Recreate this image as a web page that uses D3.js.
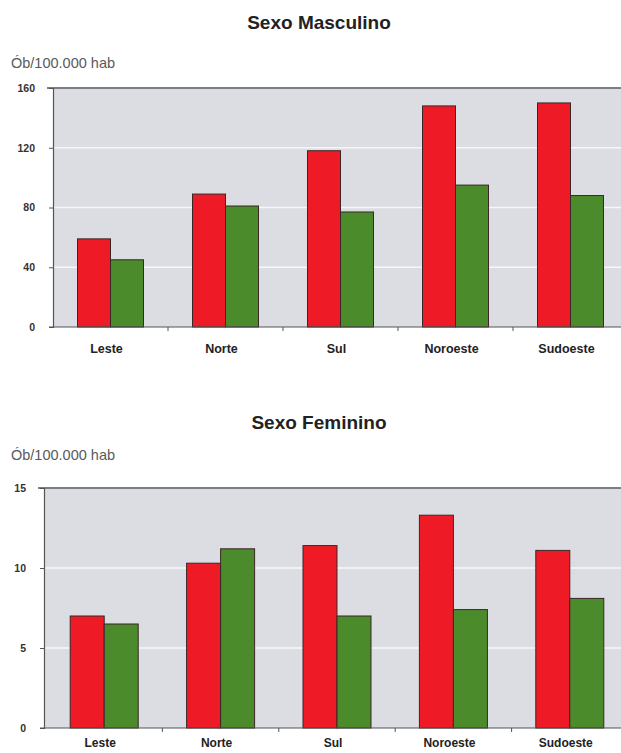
<!DOCTYPE html>
<html>
<head>
<meta charset="utf-8">
<script src="https://cdn.jsdelivr.net/npm/d3@7"></script>
<style>
  html, body { margin: 0; padding: 0; background: #fff; }
  svg { display: block; font-family: "Liberation Sans", Arial, sans-serif; }
</style>
</head>
<body>
<svg id="chart" width="621" height="753"></svg>
<script>
// Regions of the city
const regions = ["Leste", "Norte", "Sul", "Noroeste", "Sudoeste"];
// Two series per region (red, green)
const seriesKeys = ["serieA", "serieB"];
const seriesColors = ["#ee1b27", "#4c8b2b"];

// Mortality rate, men (deaths / 100,000 inhabitants)
const mascA = [59, 89, 118, 148, 150];
const mascB = [45, 81, 77, 95, 88];
const mascTicks = [0, 40, 80, 120, 160];

// Mortality rate, women (deaths / 100,000 inhabitants)
const femA = [7.0, 10.3, 11.4, 13.3, 11.1];
const femB = [6.5, 11.2, 7.0, 7.4, 8.1];
const femTicks = [0, 5, 10, 15];

const yLabel = "Ób/100.000 hab";

const svg = d3.select("#chart");

function drawPanel(cfg) {
  const g = svg.append("g");
  const { title, titleY, unitY, top, bottom, axisX, bandStart, bandEnd, ticks, a, b, half, labelY, labelSize } = cfg;

  const yMax = ticks[ticks.length - 1];
  const y = d3.scaleLinear().domain([0, yMax]).range([bottom, top]);
  const x0 = d3.scaleBand().domain(regions).range([bandStart, bandEnd]).padding(0);
  const bw = x0.bandwidth();
  const x1 = d3.scaleBand().domain(seriesKeys).range([bw / 2 - half, bw / 2 + half]).padding(0);

  const rows = regions.map((r, i) => ({ region: r, values: [a[i], b[i]] }));

  // title
  g.append("text")
    .attr("x", 319).attr("y", titleY)
    .attr("text-anchor", "middle")
    .attr("font-size", 19).attr("font-weight", "bold")
    .attr("fill", "#222")
    .text(title);

  // unit label
  g.append("text")
    .attr("x", 11).attr("y", unitY)
    .attr("font-size", 14.5)
    .attr("fill", "#5a5a5a")
    .text(yLabel);

  // plot background
  g.append("rect")
    .attr("x", axisX).attr("y", top)
    .attr("width", 640 - axisX).attr("height", bottom - top)
    .attr("fill", "#dbdde3");

  // horizontal gridlines
  g.selectAll("line.grid")
    .data(ticks.filter(t => t > 0 && t < yMax))
    .join("line")
    .attr("class", "grid")
    .attr("x1", axisX).attr("x2", 640)
    .attr("y1", d => y(d)).attr("y2", d => y(d))
    .attr("stroke", "#f6f7f9").attr("stroke-width", 1.6);

  // top border of plot area
  g.append("line")
    .attr("x1", axisX - 6).attr("x2", 640)
    .attr("y1", y(yMax)).attr("y2", y(yMax))
    .attr("stroke", "#7d7f84").attr("stroke-width", 2);

  // bars
  const grp = g.selectAll("g.region")
    .data(rows)
    .join("g")
    .attr("class", "region")
    .attr("transform", d => `translate(${x0(d.region)},0)`);

  grp.selectAll("rect")
    .data(d => d.values.map((v, i) => ({ key: seriesKeys[i], value: v, color: seriesColors[i] })))
    .join("rect")
    .attr("x", d => x1(d.key))
    .attr("width", x1.bandwidth())
    .attr("y", d => y(d.value))
    .attr("height", d => y(0) - y(d.value))
    .attr("fill", d => d.color)
    .attr("stroke", "#3a2626")
    .attr("stroke-width", 1);

  // y axis
  const yAxis = g.append("g")
    .attr("transform", `translate(${axisX},0)`)
    .call(d3.axisLeft(y).tickValues(ticks).tickSize(4).tickPadding(14).tickFormat(d3.format("d")));
  yAxis.select(".domain").attr("stroke", "#555").attr("stroke-width", 1.2);
  yAxis.selectAll(".tick line").attr("stroke", "#555");
  yAxis.selectAll(".tick text")
    .attr("font-size", 10.5).attr("font-weight", "bold")
    .attr("fill", "#333")
    .attr("font-family", "'Liberation Sans', Arial, sans-serif");
  // the top tick sits on the border line
  yAxis.selectAll(".tick line").filter(d => d === yMax).remove();

  // x axis (baseline with ticks between regions)
  const xAxis = g.append("g")
    .attr("transform", `translate(0,${bottom})`);
  xAxis.append("line")
    .attr("x1", axisX - 4).attr("x2", 640)
    .attr("y1", 0).attr("y2", 0)
    .attr("stroke", "#555").attr("stroke-width", 1.2);
  xAxis.selectAll("line.sep")
    .data(regions.slice(1))
    .join("line")
    .attr("class", "sep")
    .attr("x1", d => x0(d)).attr("x2", d => x0(d))
    .attr("y1", 0).attr("y2", 4)
    .attr("stroke", "#555");
  xAxis.selectAll("text")
    .data(regions)
    .join("text")
    .attr("x", d => x0(d) + bw / 2 - 4)
    .attr("y", labelY - bottom)
    .attr("text-anchor", "middle")
    .attr("font-size", labelSize).attr("font-weight", "bold")
    .attr("fill", "#222")
    .text(d => d);
}

drawPanel({
  title: "Sexo Masculino", titleY: 29, unitY: 68,
  top: 88, bottom: 327, axisX: 53, bandStart: 53, bandEnd: 628,
  ticks: mascTicks, a: mascA, b: mascB, half: 33, labelY: 353, labelSize: 12.5
});

drawPanel({
  title: "Sexo Feminino", titleY: 429, unitY: 460,
  top: 488, bottom: 728, axisX: 44, bandStart: 46, bandEnd: 628,
  ticks: femTicks, a: femA, b: femB, half: 34, labelY: 747, labelSize: 12
});
</script>
</body>
</html>
